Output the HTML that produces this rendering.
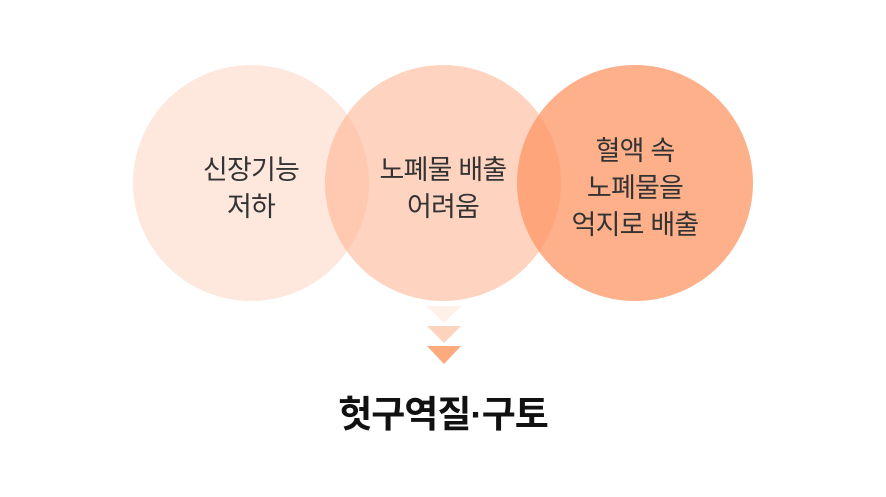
<!DOCTYPE html>
<html><head><meta charset="utf-8"><style>
body{margin:0;width:886px;height:497px;background:#fff;position:relative;overflow:hidden;font-family:"Liberation Sans","Noto Sans CJK KR",sans-serif;}
.c{position:absolute;width:236px;height:236px;border-radius:50%;top:65px;}
.t{position:absolute;width:236px;text-align:center;font-size:27px;line-height:37px;color:#333;letter-spacing:-0.8px}
.tri{position:absolute;left:427px;width:0;height:0;border-left:17px solid transparent;border-right:17px solid transparent;}
</style></head><body>
<div class="c" style="left:133px;background:#fee8de"></div>
<div class="c" style="left:325px;background:rgba(253,170,130,0.5)"></div>
<div class="c" style="left:517px;background:rgba(253,150,100,0.75)"></div>
<div class="t" style="left:133px;top:152px">신장기능<br>저하</div>
<div class="t" style="left:325px;top:152px">노폐물 배출<br>어려움</div>
<div class="t" style="left:517px;top:133px">혈액 속<br>노폐물을<br>억지로 배출</div>
<div class="tri" style="top:306px;border-top:17px solid #fff0e8"></div>
<div class="tri" style="top:326px;border-top:17px solid #fed3bd"></div>
<div class="tri" style="top:346px;border-top:18px solid #fdaa7e"></div>
<div style="position:absolute;left:0;width:886px;top:384px;text-align:center;font-size:37px;font-weight:bold;color:#111;letter-spacing:-1px">헛구역질·구토</div>
</body></html>
